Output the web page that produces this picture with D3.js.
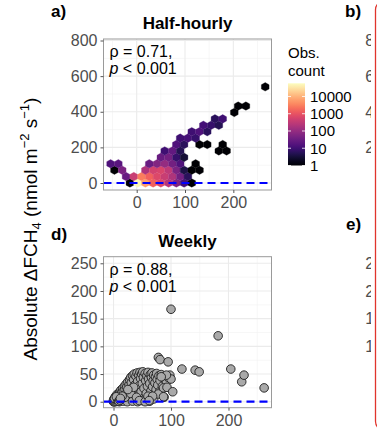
<!DOCTYPE html>
<html><head><meta charset="utf-8">
<script src="https://cdn.jsdelivr.net/npm/d3@7"></script>
<style>
body{margin:0;background:#fff}
svg{display:block;font-family:"Liberation Sans",Arial,Helvetica,sans-serif}
</style>
</head><body>
<script>
// ---------- DATA ----------
// Panel a: half-hourly hexbin cells (bin centre x, bin centre y, observation count)
const hexX = [-14,2,18,34,50,66,82,98,114,
  -22,-6,10,26,42,58,74,90,106,
  -46,-30,18,34,50,66,82,98,114,130,
  -54,-38,26,42,58,74,90,122,
  50,66,82,98,
  58,74,90,170,186,
  82,98,130,146,178,
  90,106,122,
  114,130,146,
  138,154,170,
  162,178,
  202,
  210,226,
  266];
const hexY = [0,0,0,0,0,0,0,0,0,
  36,36,36,36,36,36,36,36,36,
  72,72,72,72,72,72,72,72,72,72,
  108,108,108,108,108,108,108,108,
  144,144,144,144,
  180,180,180,180,180,
  216,216,216,216,216,
  252,252,252,
  288,288,288,
  324,324,324,
  360,360,
  396,
  432,432,
  540];
const hexN = [1,50000,6000,1500,700,250,60,12,1,
  30,400,3000,1500,700,400,200,40,6,
  1,50,200,500,600,300,50,4,1,1,
  15,20,30,60,100,40,15,1,
  30,40,8,3,
  10,25,5,1,1,
  15,6,1,1,1,
  10,12,8,
  10,15,6,
  12,8,5,
  6,10,
  1,
  1,1,
  1];
const halfTitle = "Half-hourly";
const halfRho = "0.71", halfP = "0.001";
const halfXTicks = [0,100,200];
const halfYTicks = [0,200,400,600,800];
const legendTicks = [1,10,100,1000,10000];
const countMax = 58000;

// Panel d: weekly points
const weekX = [0,1,2,3,1,4,5,3,6,7,6,8,9,10,11,12,13,14,14,16,17,18,19,20,21,22,23,24,25,26,27,28,29,30,31,32,33,34,35,36,37,38,39,40,41,42,43,44,45,46,47,48,49,50,51,52,53,54,55,56,57,58,59,60,61,62,63,64,65,66,67,68,69,70,71,72,73,74,75,76,77,79,80,81,83,85,86,88,90,92,95,98,100,
  10,17,24,33,42,50,63,20,30,40,45,55,35,25,15,60,70,78,68,87,93,
  0,1,2,0,3,5,4,2,7,8,5,9,11,12,
  78,81,95,100,119,142,149,182,204,223,227,262,103,87,92,83,62];
const weekY = [0,2,1,4,5,2,7,9,4,10,13,6,14,9,18,12,21,5,16,24,19,9,28,22,14,32,26,3,36,19,30,40,11,44,34,24,47,15,40,50,30,5,46,22,52,37,12,48,29,53,42,18,50,33,54,44,24,8,51,38,15,47,28,53,41,2,33,49,19,44,52,27,38,48,12,34,45,22,51,40,30,47,18,38,49,28,44,8,47,36,44,48,41,
  0,1,0,1,0,2,1,8,15,8,2,0,26,22,10,10,5,14,10,25,26,
  1,0,3,3,0,1,4,6,5,3,9,1,3,6,
  80,76,72,167,59,57,54,119,59,36,48,25,18,9,48,45,2];
const weekTitle = "Weekly";
const weekRho = "0.88", weekP = "0.001";
const weekXTicks = [0,100,200];
const weekYTicks = [0,50,100,150,200,250];

// bin sizes of hex grid (data units)
const HEX_W = 16, HEX_ROW = 36;

// ---------- DRAW ----------
const W = 377, H = 431;
const svg = d3.select("body").append("svg").attr("width", W).attr("height", H);
const FS = 16;

function panel(cfg){
  const g = svg.append("g");
  const x = d3.scaleLinear().domain(cfg.xd).range([cfg.L, cfg.R]);
  const y = d3.scaleLinear().domain(cfg.yd).range([cfg.B, cfg.T]);
  g.append("rect").attr("x",cfg.L).attr("y",cfg.T).attr("width",cfg.R-cfg.L).attr("height",cfg.B-cfg.T).attr("fill","#fff");
  const xs = cfg.xTicks, ys = cfg.yTicks;
  const xdx = xs[1]-xs[0], ydy = ys[1]-ys[0];
  const xMinor = d3.range(xs[0]-xdx/2, cfg.xd[1], xdx).filter(v=>v>cfg.xd[0]);
  const yMinor = d3.range(ys[0]-ydy/2, cfg.yd[1], ydy).filter(v=>v>cfg.yd[0]);
  g.selectAll(null).data(xMinor).join("line").attr("x1",d=>x(d)).attr("x2",d=>x(d)).attr("y1",cfg.T).attr("y2",cfg.B).attr("stroke","#f2f2f2").attr("stroke-width",0.6);
  g.selectAll(null).data(yMinor).join("line").attr("y1",d=>y(d)).attr("y2",d=>y(d)).attr("x1",cfg.L).attr("x2",cfg.R).attr("stroke","#f2f2f2").attr("stroke-width",0.6);
  g.selectAll(null).data(xs).join("line").attr("x1",d=>x(d)).attr("x2",d=>x(d)).attr("y1",cfg.T).attr("y2",cfg.B).attr("stroke","#ebebeb").attr("stroke-width",1.1);
  g.selectAll(null).data(ys).join("line").attr("y1",d=>y(d)).attr("y2",d=>y(d)).attr("x1",cfg.L).attr("x2",cfg.R).attr("stroke","#ebebeb").attr("stroke-width",1.1);
  const clipId = "clip"+cfg.id;
  svg.append("clipPath").attr("id",clipId).append("rect").attr("x",cfg.L).attr("y",cfg.T).attr("width",cfg.R-cfg.L).attr("height",cfg.B-cfg.T);
  const mg = g.append("g").attr("clip-path",`url(#${clipId})`);
  cfg.draw(mg, x, y);
  mg.append("line").attr("x1",cfg.L).attr("x2",cfg.R).attr("y1",y(0)).attr("y2",y(0))
    .attr("stroke","#0000ff").attr("stroke-width",2.2).attr("stroke-dasharray","8,5");
  g.append("rect").attr("x",cfg.L).attr("y",cfg.T).attr("width",cfg.R-cfg.L).attr("height",cfg.B-cfg.T).attr("fill","none").attr("stroke","#9a9a9a").attr("stroke-width",1);
  const ax = g.append("g").attr("transform",`translate(0,${cfg.B})`).call(d3.axisBottom(x).tickValues(xs).tickSize(3).tickPadding(4));
  const ay = g.append("g").attr("transform",`translate(${cfg.L},0)`).call(d3.axisLeft(y).tickValues(ys).tickSize(3).tickPadding(3));
  [ax,ay].forEach(a=>{
    a.select(".domain").remove();
    a.selectAll(".tick line").attr("stroke","#555");
    a.selectAll(".tick text").attr("fill","#4d4d4d").attr("font-size",FS).attr("font-family","Liberation Sans, Arial, sans-serif");
  });
  ax.selectAll(".tick text").attr("dy","0.71em");
  g.append("text").attr("x",(cfg.L+cfg.R)/2).attr("y",cfg.titleY).attr("text-anchor","middle")
    .attr("font-weight","bold").attr("font-size",17).text(cfg.title);
  g.append("text").attr("x",51).attr("y",cfg.tagY).attr("font-weight","bold").attr("font-size",17).text(cfg.tag);
  const t1 = g.append("text").attr("x",cfg.L+6).attr("y",cfg.T+18).attr("font-size",FS);
  t1.append("tspan").text("\u03C1 = "+cfg.rho+",");
  const t2 = g.append("text").attr("x",cfg.L+6).attr("y",cfg.T+35).attr("font-size",FS);
  t2.append("tspan").attr("font-style","italic").text("p");
  t2.append("tspan").text(" < "+cfg.p);
  return {x,y};
}

// Panel a
const logMax = Math.log10(countMax);
const color = n => d3.interpolateMagma(Math.log10(n)/logMax);
panel({id:"a", L:103.5, R:271.5, T:39, B:190, xd:[-68.7,279], yd:[-39.3,808.5],
  xTicks:halfXTicks, yTicks:halfYTicks, title:halfTitle, titleY:29, tag:"a)", tagY:17,
  rho:halfRho, p:halfP,
  draw:(g,x,y)=>{
    const hw = (x(HEX_W)-x(0))/2;
    const r = (y(0)-y(HEX_ROW))/1.5;
    const path = `M0,${-r}L${hw},${-r/2}L${hw},${r/2}L0,${r}L${-hw},${r/2}L${-hw},${-r/2}Z`;
    const cells = hexX.map((v,i)=>({x:v,y:hexY[i],n:hexN[i]}));
    g.selectAll(null).data(cells).join("path")
      .attr("transform",d=>`translate(${x(d.x)},${y(d.y)})`)
      .attr("d",path).attr("fill",d=>color(d.n)).attr("stroke",d=>color(d.n)).attr("stroke-width",0.3);
  }});

// Panel d
panel({id:"d", L:103.5, R:271.5, T:256.7, B:407.7, xd:[-17.4,274.8], yd:[-10.8,261.9],
  xTicks:weekXTicks, yTicks:weekYTicks, title:weekTitle, titleY:247, tag:"d)", tagY:240,
  rho:weekRho, p:weekP,
  draw:(g,x,y)=>{
    const pts = weekX.map((v,i)=>({x:v,y:weekY[i]}));
    g.selectAll(null).data(pts).join("circle")
      .attr("cx",d=>x(d.x)).attr("cy",d=>y(d.y)).attr("r",4.3)
      .attr("fill","#a9a9a9").attr("stroke","#1e1e1e").attr("stroke-width",0.9);
  }});

// Legend (colour bar)
const lg = svg.append("g");
lg.append("text").attr("x",288).attr("y",58).attr("font-size",15).text("Obs.");
lg.append("text").attr("x",288).attr("y",76).attr("font-size",15).text("count");
const ly = d3.scaleLog().domain([1,countMax]).range([165.5,83.3]);
const grad = svg.append("defs").append("linearGradient").attr("id","mg").attr("x1",0).attr("x2",0).attr("y1",1).attr("y2",0);
d3.range(0,1.0001,0.05).forEach(t=>grad.append("stop").attr("offset",t).attr("stop-color",d3.interpolateMagma(t)));
lg.append("rect").attr("x",288).attr("y",83.3).attr("width",17).attr("height",165.5-83.3).attr("fill","url(#mg)");
legendTicks.forEach(v=>{
  lg.append("line").attr("x1",288).attr("x2",291).attr("y1",ly(v)).attr("y2",ly(v)).attr("stroke","#fff").attr("stroke-width",0.8);
  lg.append("line").attr("x1",302).attr("x2",305).attr("y1",ly(v)).attr("y2",ly(v)).attr("stroke","#fff").attr("stroke-width",0.8);
  lg.append("text").attr("x",310).attr("y",ly(v)).attr("dy","0.36em").attr("font-size",15).text(d3.format("d")(v));
});

// Y axis title
const yt = svg.append("text").attr("transform","translate(37,229) rotate(-90)").attr("text-anchor","middle").attr("font-size",19);
yt.append("tspan").text("Absolute \u0394FCH");
yt.append("tspan").attr("font-size",13).attr("dy",4).text("4");
yt.append("tspan").attr("dy",-4).text(" (nmol m");
yt.append("tspan").attr("font-size",13).attr("dy",-8).text("\u22122");
yt.append("tspan").attr("dy",8).text(" s");
yt.append("tspan").attr("font-size",13).attr("dy",-8).text("\u22121");
yt.append("tspan").attr("dy",8).text(")");

// Neighbouring panels (clipped at the figure edge)
const bTicks = ["800","600","400","200"], eTicks = ["250","200","150","100"];
svg.append("clipPath").attr("id","cr").append("rect").attr("x",340).attr("y",0).attr("width",31).attr("height",H);
const nb = svg.append("g").attr("clip-path","url(#cr)");
const yb = d3.scaleLinear().domain([0,800]).range([183,40.5]);
bTicks.forEach(t=>nb.append("text").attr("x",392).attr("y",yb(+t)).attr("dy","0.36em").attr("text-anchor","end").attr("font-size",FS).attr("fill","#4d4d4d").text(t));
const ye = d3.scaleLinear().domain([0,250]).range([401.7,263.3]);
eTicks.forEach(t=>nb.append("text").attr("x",392).attr("y",ye(+t)).attr("dy","0.36em").attr("text-anchor","end").attr("font-size",FS).attr("fill","#4d4d4d").text(t));
svg.append("text").attr("x",345).attr("y",17).attr("font-weight","bold").attr("font-size",17).text("b)");
svg.append("text").attr("x",346).attr("y",230).attr("font-weight","bold").attr("font-size",17).text("e)");
svg.append("rect").attr("x",375.5).attr("y",0.8).attr("width",60).attr("height",429.5).attr("rx",9)
  .attr("fill","none").attr("stroke","#e0342c").attr("stroke-width",1.3);
</script>
</body></html>
